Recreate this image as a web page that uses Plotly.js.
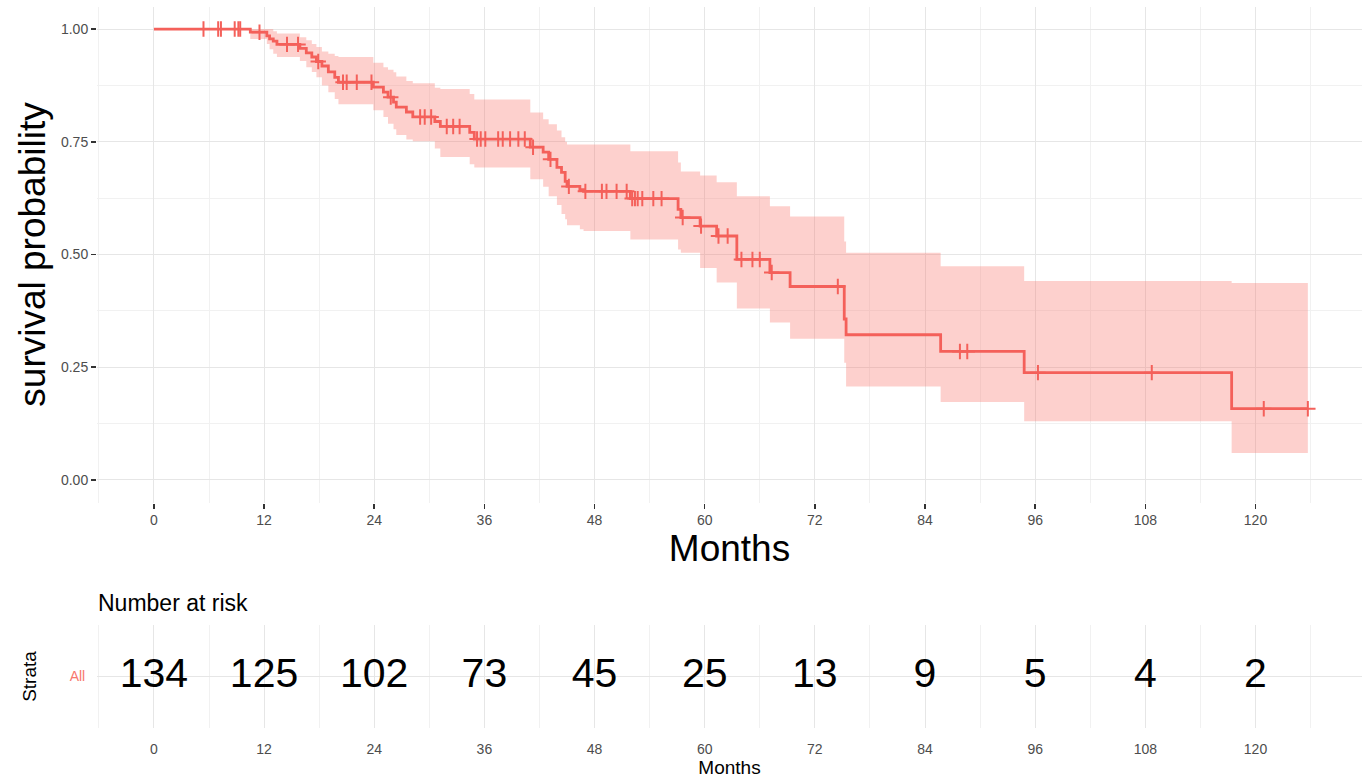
<!DOCTYPE html>
<html>
<head>
<meta charset="utf-8">
<script src="https://cdn.plot.ly/plotly-3.0.1.min.js"></script>
<style>html,body{margin:0;padding:0;background:#fff;}#chart{width:1362px;height:783px;}</style>
</head>
<body>
<div id="chart"></div>
<script>
// ---- Data ----
const eventTimes = [0, 10.5, 12.3, 12.6, 13.0, 13.4, 15.9, 16.6, 17.2, 17.7, 18.3, 19.0, 19.7, 20.1,
  23.9, 25.0, 25.5, 26.1, 26.4, 27.5, 28.2, 30.6, 31.2, 34.4, 34.9, 41.0, 42.4, 43.0, 43.9, 44.4,
  44.8, 45.0, 46.4, 46.8, 51.9, 57.1, 57.4, 59.5, 61.3, 63.5, 67.1, 69.3, 75.2, 75.4, 85.7, 94.8, 117.4];
const survival = [1.000, 0.993, 0.985, 0.978, 0.973, 0.966, 0.957, 0.947, 0.938, 0.928, 0.918, 0.905, 0.893, 0.882,
  0.871, 0.860, 0.849, 0.838, 0.827, 0.816, 0.805, 0.795, 0.784, 0.771, 0.756, 0.738, 0.727, 0.711, 0.693, 0.682,
  0.662, 0.651, 0.644, 0.640, 0.624, 0.600, 0.582, 0.563, 0.541, 0.489, 0.460, 0.429, 0.357, 0.322, 0.285, 0.238, 0.158];
const lowerCI = [1.000, 0.978, 0.967, 0.955, 0.945, 0.938, 0.929, 0.915, 0.905, 0.893, 0.875, 0.860, 0.845, 0.833,
  0.820, 0.805, 0.790, 0.778, 0.765, 0.755, 0.751, 0.735, 0.716, 0.700, 0.693, 0.667, 0.650, 0.629, 0.610, 0.590,
  0.578, 0.565, 0.556, 0.552, 0.533, 0.511, 0.504, 0.470, 0.438, 0.380, 0.349, 0.313, 0.260, 0.207, 0.173, 0.130, 0.060];
const upperCI = [1.000, 1.000, 1.000, 1.000, 0.995, 0.990, 0.982, 0.975, 0.967, 0.960, 0.950, 0.945, 0.940, 0.938,
  0.925, 0.915, 0.910, 0.904, 0.895, 0.885, 0.880, 0.870, 0.867, 0.856, 0.844, 0.815, 0.800, 0.789, 0.775, 0.760,
  0.750, 0.744, 0.744, 0.744, 0.729, 0.704, 0.684, 0.675, 0.660, 0.629, 0.607, 0.584, 0.529, 0.504, 0.474, 0.441, 0.437];
const censorTimes = [5.4, 7.0, 7.3, 8.8, 9.2, 9.4, 11.5, 14.5, 15.7, 17.9, 20.6, 21.0, 22.1, 23.7, 25.8,
  29.0, 29.5, 30.2, 31.9, 32.6, 33.3, 35.2, 35.6, 36.1, 37.5, 38.0, 38.8, 39.7, 40.4, 41.3, 43.2, 45.2, 47.0,
  48.8, 49.3, 50.4, 51.5, 52.1, 52.4, 52.7, 53.2, 54.4, 55.3, 57.6, 59.6, 61.5, 62.5, 64.0, 65.2, 66.0, 67.3,
  74.5, 87.8, 88.6, 96.3, 108.7, 120.9, 125.7];
const strata = ['All'];
const riskTimes = [0, 12, 24, 36, 48, 60, 72, 84, 96, 108, 120];
const riskCounts = [134, 125, 102, 73, 45, 25, 13, 9, 5, 4, 2];
const yTickVals = [0, 0.25, 0.5, 0.75, 1];
const yTickText = ['0.00', '0.25', '0.50', '0.75', '1.00'];

// ---- Build traces ----
const endTime = Math.max(...censorTimes);
const stepX = eventTimes.concat([endTime]);
const ext = a => a.concat([a[a.length - 1]]);
function survAt(t) {
  let s = survival[0];
  for (let i = 0; i < eventTimes.length; i++) if (eventTimes[i] <= t) s = survival[i];
  return s;
}
const RED = '#F8766D';
const LINE = '#F4605A';
const FONT = 'Liberation Sans, Arial, Helvetica, sans-serif';

const traces = [
  {x: stepX, y: ext(lowerCI), type: 'scatter', mode: 'lines', line: {shape: 'hv', width: 0, color: RED},
   hoverinfo: 'skip', xaxis: 'x', yaxis: 'y'},
  {x: stepX, y: ext(upperCI), type: 'scatter', mode: 'lines', line: {shape: 'hv', width: 0, color: RED},
   fill: 'tonexty', fillcolor: 'rgba(248,118,109,0.34)', hoverinfo: 'skip', xaxis: 'x', yaxis: 'y'},
  {x: stepX, y: ext(survival), type: 'scatter', mode: 'lines', line: {shape: 'hv', width: 2.8, color: LINE},
   xaxis: 'x', yaxis: 'y', name: 'All'},
  {x: censorTimes, y: censorTimes.map(survAt), type: 'scatter', mode: 'markers',
   marker: {symbol: 'cross-thin-open', size: 11, line: {width: 2, color: LINE}, color: LINE},
   xaxis: 'x', yaxis: 'y', hoverinfo: 'x+y'},
  {x: riskTimes, y: riskTimes.map(() => strata[0]), text: riskCounts.map(String), type: 'scatter', mode: 'text',
   textfont: {size: 41, color: '#000', family: FONT}, textposition: 'middle center', xaxis: 'x2', yaxis: 'y2'}
];

const W = 1362, H = 783;
const px = v => v / W, py = v => (H - v) / H;
const xRange = [-6.2, 131.6];
const gridMaj = '#E6E6E6', gridMin = '#F1F1F1';

const layout = {
  width: W, height: H,
  margin: {l: 0, r: 0, t: 0, b: 0},
  paper_bgcolor: '#fff', plot_bgcolor: '#fff',
  showlegend: false,
  font: {family: FONT},
  xaxis: {
    domain: [px(97), 1], range: xRange, anchor: 'y',
    tickmode: 'array', tickvals: riskTimes,
    ticks: 'outside', ticklen: 5, tickwidth: 1.5, tickcolor: '#333',
    tickfont: {size: 14, color: '#4D4D4D'},
    showgrid: true, gridcolor: gridMaj, gridwidth: 1, zeroline: false, showline: false,
    minor: {tickmode: 'linear', tick0: 0, dtick: 6, showgrid: true, gridcolor: gridMin, gridwidth: 1, ticks: ''},
    title: {text: 'Months', font: {size: 37, color: '#000'}, standoff: 4}
  },
  yaxis: {
    domain: [py(502.5), py(6.5)], range: [-0.05, 1.05], anchor: 'x',
    tickmode: 'array', tickvals: yTickVals, ticktext: yTickText,
    ticks: 'outside', ticklen: 5, tickwidth: 1.5, tickcolor: '#333',
    tickfont: {size: 14, color: '#4D4D4D'},
    showgrid: true, gridcolor: gridMaj, gridwidth: 1, zeroline: false, showline: false,
    minor: {tickmode: 'linear', tick0: 0, dtick: 0.125, showgrid: true, gridcolor: gridMin, gridwidth: 1, ticks: ''},
    title: {text: 'survival probability', font: {size: 37, color: '#000'}, standoff: 4}
  },
  xaxis2: {
    domain: [px(97), 1], range: xRange, anchor: 'y2',
    tickmode: 'array', tickvals: riskTimes,
    ticks: 'outside', ticklen: 8, tickcolor: 'rgba(0,0,0,0)',
    tickfont: {size: 14, color: '#4D4D4D'},
    showgrid: true, gridcolor: gridMaj, gridwidth: 1, zeroline: false, showline: false,
    minor: {tickmode: 'linear', tick0: 0, dtick: 6, showgrid: true, gridcolor: gridMin, gridwidth: 1, ticks: ''},
    title: {text: 'Months', font: {size: 19, color: '#000'}, standoff: 2}
  },
  yaxis2: {
    domain: [py(728), py(625)], anchor: 'x2', type: 'category', categoryarray: strata,
    range: [-0.5, 0.5],
    ticks: 'outside', ticklen: 8, tickcolor: 'rgba(0,0,0,0)',
    tickfont: {size: 14, color: RED},
    showgrid: true, gridcolor: gridMaj, gridwidth: 1, zeroline: false, showline: false,
    title: {text: 'Strata', font: {size: 19, color: '#000'}, standoff: 27}
  },
  annotations: [{
    text: 'Number at risk', xref: 'paper', yref: 'paper', x: px(96), y: py(603),
    xanchor: 'left', yanchor: 'middle', showarrow: false, font: {size: 23, color: '#000'}
  }]
};

Plotly.newPlot('chart', traces, layout, {displayModeBar: false, staticPlot: true});
</script>
</body>
</html>
